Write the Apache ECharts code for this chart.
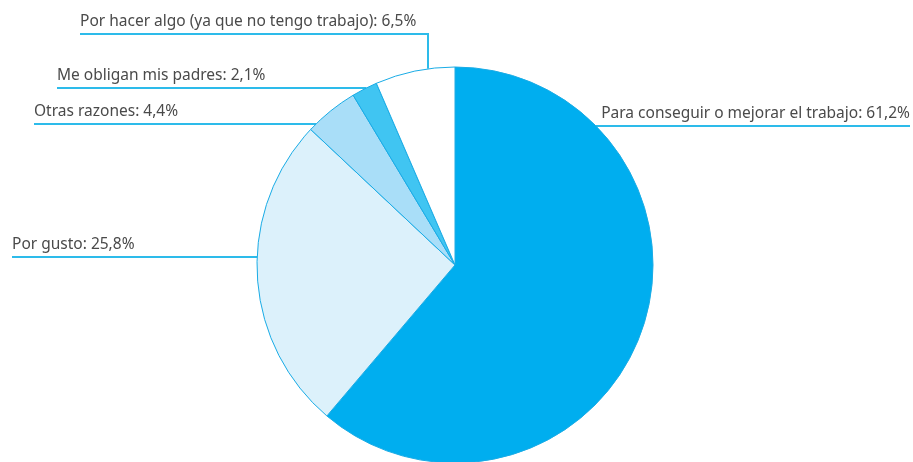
<!DOCTYPE html>
<html>
<head>
<meta charset="utf-8">
<script src="https://cdn.jsdelivr.net/npm/echarts@6/dist/echarts.min.js"></script>
<style>
html,body{margin:0;padding:0;background:#fff;}
#chart{width:913px;height:462px;}
</style>
</head>
<body>
<div id="chart"></div>
<script>
// ---- data ----
const categories = [
  'Para conseguir o mejorar el trabajo',
  'Por gusto',
  'Otras razones',
  'Me obligan mis padres',
  'Por hacer algo (ya que no tengo trabajo)'
];
const values = [61.2, 25.8, 4.4, 2.1, 6.5];
const colors = ['#00AEEF', '#DCF1FB', '#A9DEF8', '#40C5F2', '#FFFFFF'];

// ---- layout (pixels) ----
const CX = 455, CY = 265, R = 198;
const labelLayoutCfg = [
  { side: 'right', lineY: 126, textEdge: 910 },
  { side: 'left', lineY: 257, textEdge: 12 },
  { side: 'left', lineY: 124, textEdge: 34 },
  { side: 'left', lineY: 88, textEdge: 57 },
  { side: 'left', lineY: 34, textEdge: 80, vx: 428 }
];

const fmt = v => v.toFixed(1).replace('.', ',') + '%';

const chart = echarts.init(document.getElementById('chart'), null, { renderer: 'canvas' });
chart.setOption({
  backgroundColor: '#ffffff',
  animation: false,
  series: [{
    type: 'pie',
    center: [CX, CY],
    radius: R,
    startAngle: 90,
    clockwise: true,
    data: categories.map((c, i) => ({ name: c, value: values[i], itemStyle: { color: colors[i] } })),
    itemStyle: { borderColor: '#1AACE6', borderWidth: 1 },
    label: {
      show: true,
      position: 'outside',
      overflow: 'none',
      width: 400,
      formatter: p => p.name + ': ' + fmt(p.value),
      fontFamily: 'Noto Sans',
      fontSize: 15.5,
      color: '#4a4a4a'
    },
    labelLine: { show: true, lineStyle: { color: '#2DBBEA', width: 2 } },
    emphasis: { disabled: true },
    labelLayout: function (params) {
      const cfg = labelLayoutCfg[params.dataIndex];
      let pts;
      if (cfg.vx !== undefined) {
        const ey = CY - Math.sqrt(R * R - (cfg.vx - CX) * (cfg.vx - CX));
        pts = [[cfg.vx, ey], [cfg.vx, cfg.lineY], [cfg.textEdge, cfg.lineY]];
      } else {
        const dx = Math.sqrt(R * R - (cfg.lineY - CY) * (cfg.lineY - CY));
        const ex = cfg.side === 'right' ? CX + dx : CX - dx;
        pts = [[ex, cfg.lineY], [ex, cfg.lineY], [cfg.textEdge, cfg.lineY]];
      }
      return {
        x: cfg.textEdge,
        y: cfg.lineY - 4,
        align: cfg.side === 'right' ? 'right' : 'left',
        verticalAlign: 'bottom',
        labelLinePoints: pts
      };
    }
  }]
});
</script>
</body>
</html>
